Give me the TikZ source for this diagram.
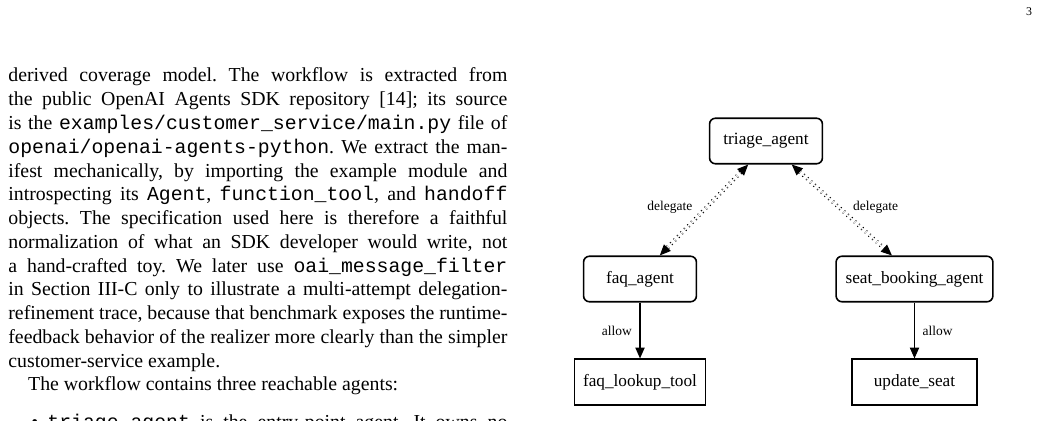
\documentclass[tikz,border=0pt]{standalone}
\usepackage{fontspec}
\setmainfont{Liberation Serif}
\setmonofont{Liberation Mono}
\usetikzlibrary{arrows.meta,positioning}

\newcommand{\colline}[1]{\hbox to 252pt{#1}}
\newcommand{\colend}[1]{\hbox to 252pt{#1\hfil}}

\begin{document}
\begin{tikzpicture}[x=0.505pt,y=-0.505pt,
    agentbox/.style={draw,line width=0.8pt,rounded corners=3pt,minimum width=57pt,minimum height=23pt,inner xsep=4.8pt,font=\fontsize{8.7}{10}\selectfont},
    toolbox/.style={draw,line width=0.8pt,minimum width=63pt,minimum height=23pt,inner xsep=4.3pt,font=\fontsize{8.7}{10}\selectfont},
    deleg/.style={dotted,line width=0.5pt,double distance=1pt,{Triangle[length=5.5pt,width=4.7pt]}-{Triangle[length=5.5pt,width=4.7pt]}},
    allowarr/.style={line width=0.6pt,-{Triangle[length=5.5pt,width=4.7pt]}},
    edgelabel/.style={font=\fontsize{6.8}{8}\selectfont,inner sep=1pt}]
  \useasboundingbox (0,0) rectangle (1041,421);

  % page number
  \node (pageno) at (1029,12) {\fontsize{6}{7}\selectfont 3};

  % left column text
  \node (body) [anchor=base west,inner sep=0pt] at (8,82) {\vtop{\fontsize{10}{12}\selectfont\baselineskip=12pt\frenchspacing
    \colline{derived coverage model. The workflow is extracted from}
    \colline{the public OpenAI Agents SDK repository [14]; its source}
    \colline{is the \texttt{examples/customer\_service/main.py} file of}
    \colline{\texttt{openai/openai-agents-python}. We extract the man-}
    \colline{ifest mechanically, by importing the example module and}
    \colline{introspecting its \texttt{Agent}, \texttt{function\_tool}, and \texttt{handoff}}
    \colline{objects. The specification used here is therefore a faithful}
    \colline{normalization of what an SDK developer would write, not}
    \colline{a hand-crafted toy. We later use \texttt{oai\_message\_filter}}
    \colline{in Section III-C only to illustrate a multi-attempt delegation-}
    \colline{refinement trace, because that benchmark exposes the runtime-}
    \colline{feedback behavior of the realizer more clearly than the simpler}
    \colend{customer-service example.}
    \colend{\hskip 10pt The workflow contains three reachable agents:}
    \vskip 7pt
    \hbox{\hskip 11.6pt\hbox to 8.1pt{\textbullet\hfil}\hbox to 232.3pt{\texttt{triage\_agent} is the entry-point agent. It owns no}}}};

  % agents
  \node[agentbox] (triage) at (766,141) {triage\_agent};
  \node[agentbox] (faq) at (640,279) {faq\_agent};
  \node[agentbox] (seat) at (914.5,279) {seat\_booking\_agent};

  % tools
  \node[toolbox] (faqtool) at (640,382) {faq\_lookup\_tool};
  \node[toolbox] (updseat) at (914.5,382) {update\_seat};

  % handoffs
  \draw[deleg] ([xshift=-9pt]triage.south) -- ([xshift=10pt]faq.north)
    node[edgelabel,pos=0.47,left=6pt] {delegate};
  \draw[deleg] ([xshift=13pt]triage.south) -- ([xshift=-11.4pt]seat.north)
    node[edgelabel,pos=0.47,right=6pt] {delegate};

  % tool permissions
  \draw[allowarr] (faq) -- (faqtool) node[edgelabel,midway,left=2.8pt] {allow};
  \draw[allowarr] (seat) -- (updseat) node[edgelabel,midway,right=2.8pt] {allow};
\end{tikzpicture}
\end{document}
